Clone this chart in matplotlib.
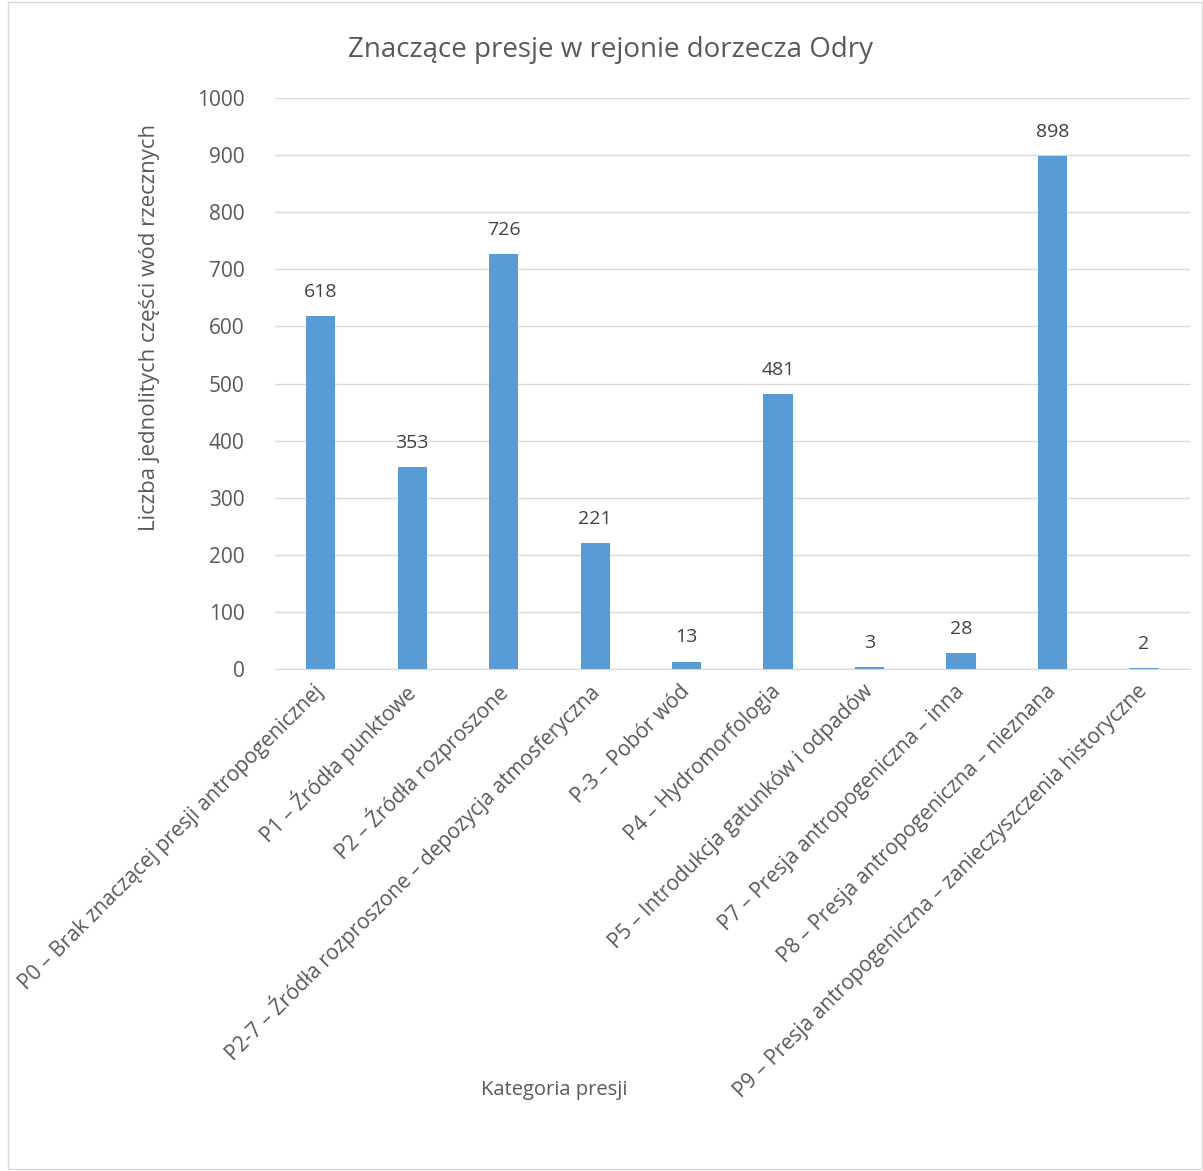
import matplotlib.pyplot as plt
import matplotlib.patches as mpatches

plt.rcParams['font.family'] = ['Open Sans', 'DejaVu Sans']

# dane z wykresu
kategorie = [
    'P0 – Brak znaczącej presji antropogenicznej',
    'P1 – Źródła punktowe',
    'P2 – Źródła rozproszone',
    'P2-7 – Źródła rozproszone – depozycja atmosferyczna',
    'P-3 – Pobór wód',
    'P4 – Hydromorfologia',
    'P5 – Introdukcja gatunków i odpadów',
    'P7 – Presja antropogeniczna – inna',
    'P8 – Presja antropogeniczna – nieznana',
    'P9 – Presja antropogeniczna – zanieczyszczenia historyczne',
]
liczba_jcwp = [618, 353, 726, 221, 13, 481, 3, 28, 898, 2]
y_ticks = [0, 100, 200, 300, 400, 500, 600, 700, 800, 900, 1000]

text_col = '#595959'
bar_col = '#5B9BD5'
grid_col = '#D9D9D9'

fig = plt.figure(figsize=(12.03, 11.71), dpi=100)
ax = fig.add_axes([0.2286, 0.4287, 0.7604, 0.4876])

x = range(len(kategorie))
bars = ax.bar(x, liczba_jcwp, width=0.32, color=bar_col, zorder=3)

for b, v in zip(bars, liczba_jcwp):
    ax.annotate(str(v), (b.get_x() + b.get_width() / 2, v), xytext=(0, 11),
                textcoords='offset points', ha='center', va='bottom',
                fontsize=14, color='#404040')

ax.set_xlim(-0.5, len(kategorie) - 0.5)
ax.set_ylim(0, 1000)
ax.set_yticks(y_ticks)
ax.set_yticklabels([str(t) for t in y_ticks], fontsize=15, color=text_col)
ax.set_xticks(list(x))
ax.set_xticklabels(kategorie, rotation=45, ha='right', va='center',
                   rotation_mode='anchor', fontsize=15, color=text_col)
ax.tick_params(axis='both', length=0)
ax.tick_params(axis='y', pad=22)
ax.tick_params(axis='x', pad=14)
ax.grid(axis='y', color=grid_col, linewidth=1, zorder=0)
for s in ['top', 'right', 'left']:
    ax.spines[s].set_visible(False)
ax.spines['bottom'].set_color(grid_col)

fig.text(611 / 1203, 1 - 50 / 1171, 'Znaczące presje w rejonie dorzecza Odry',
         ha='center', va='center', fontsize=20, color=text_col)
fig.text(150 / 1203, 1 - 327 / 1171, 'Liczba jednolitych części wód rzecznych',
         ha='center', va='center', rotation=90, fontsize=16, color=text_col)
fig.text(554 / 1203, 1 - 1090 / 1171, 'Kategoria presji',
         ha='center', va='center', fontsize=14.5, color=text_col)

# ramka wykresu
fig.patches.append(mpatches.Rectangle((8 / 1203, 0.002), 1 - 9 / 1203, 0.996,
                                      transform=fig.transFigure, fill=False,
                                      edgecolor='#D9D9D9', linewidth=1))

fig.savefig('out.png', dpi=100)
